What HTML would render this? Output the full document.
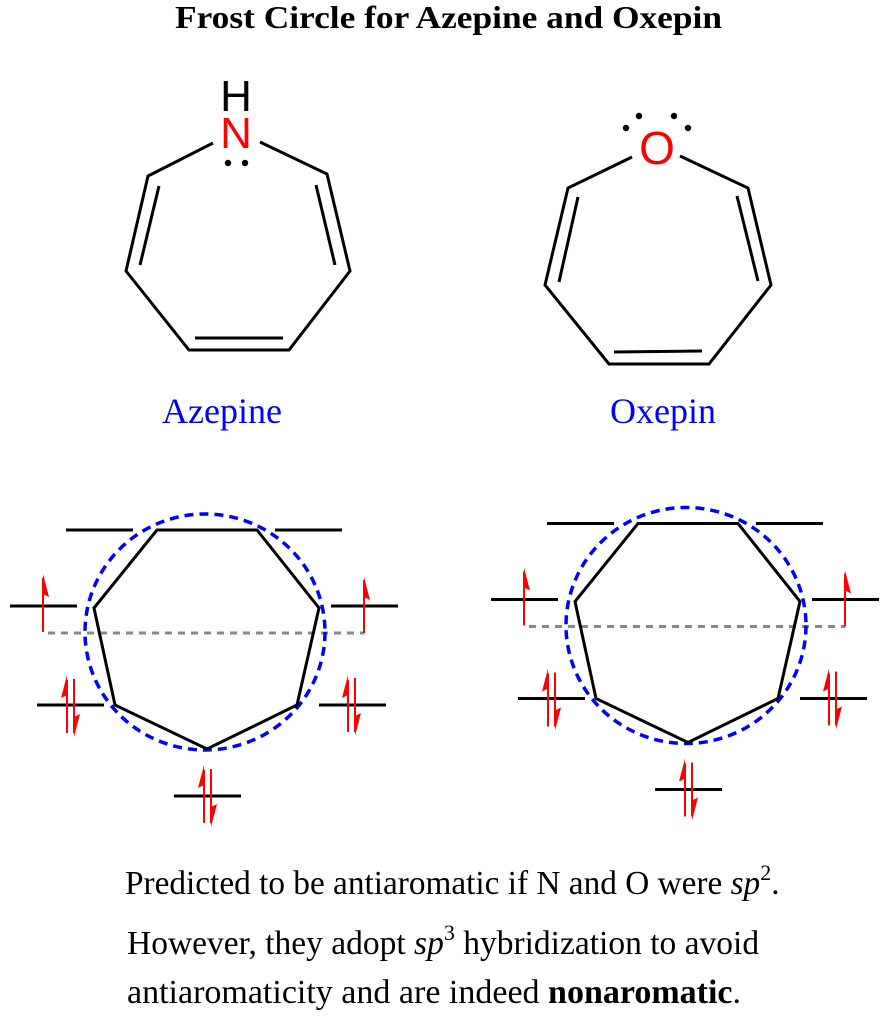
<!DOCTYPE html>
<html><head><style>
body{margin:0;background:#fff;width:893px;height:1027px;overflow:hidden}
svg{display:block}
</style></head><body>
<svg width="893" height="1027" xmlns="http://www.w3.org/2000/svg" font-family="Liberation Serif, serif">
<text x="175" y="28" textLength="547" lengthAdjust="spacingAndGlyphs" font-weight="bold" font-size="32">Frost Circle for Azepine and Oxepin</text>
<!-- Azepine -->
<g stroke="#000" stroke-width="3" fill="none">
<polyline points="213,143 148,176 126,271 189,350 289,350 350,271 327,174 260,142"/>
<line x1="159" y1="186" x2="140" y2="265"/>
<line x1="316" y1="185" x2="335" y2="265"/>
<line x1="195" y1="338" x2="283" y2="338"/>
</g>
<text x="236" y="111" text-anchor="middle" font-family="Liberation Sans, sans-serif" font-size="44">H</text>
<text x="236" y="148" text-anchor="middle" font-family="Liberation Sans, sans-serif" font-size="44" fill="#f00">N</text>
<circle cx="228" cy="163" r="3.2"/><circle cx="245" cy="163" r="3.2"/>
<text x="222" y="423" text-anchor="middle" font-size="36" fill="#00f">Azepine</text>
<!-- Oxepin -->
<g stroke="#000" stroke-width="3" fill="none">
<polyline points="632,157 568,188 545,285 609,364 709,364 771,285 748,188 680,156"/>
<line x1="578" y1="197" x2="559" y2="282"/>
<line x1="737" y1="196" x2="758" y2="281"/>
<line x1="614" y1="352" x2="702" y2="351"/>
</g>
<text x="657" y="164" text-anchor="middle" font-family="Liberation Sans, sans-serif" font-size="46" fill="#f00">O</text>
<circle cx="626" cy="128" r="3.2"/><circle cx="639" cy="116" r="3.2"/><circle cx="674" cy="116" r="3.2"/><circle cx="688" cy="128" r="3.2"/>
<text x="663" y="423" text-anchor="middle" font-size="36" fill="#00f">Oxepin</text>

<defs>
<g id="frost">
<g stroke="#000" stroke-width="3">
<line x1="66" y1="530" x2="133" y2="530"/><line x1="275" y1="530" x2="342" y2="530"/>
<line x1="10" y1="606" x2="77" y2="606"/><line x1="331" y1="606" x2="398" y2="606"/>
<line x1="37" y1="705" x2="104" y2="705"/><line x1="319" y1="705" x2="386" y2="705"/>
<line x1="174" y1="796" x2="241" y2="796"/>
</g>
<line x1="48" y1="633" x2="364" y2="633" stroke="#888" stroke-width="3" stroke-dasharray="7,6"/>
<ellipse cx="205" cy="632" rx="120" ry="118" fill="none" stroke="#00f" stroke-width="3.5" stroke-dasharray="9,6"/>
<polygon points="157,530 257,530 319,608 297,705 207,749 115,705 94,608" fill="none" stroke="#000" stroke-width="3"/>
<g stroke="#f00" stroke-width="2" fill="#f00">
<line x1="43" y1="632" x2="43" y2="578"/><polygon points="43,574 49,597 43,594" stroke="none"/>
<line x1="364" y1="633" x2="364" y2="580"/><polygon points="364,577 370,600 364,597" stroke="none"/>
<line x1="67" y1="733" x2="67" y2="680"/><polygon points="67,675 61,698 67,695" stroke="none"/>
<line x1="74" y1="679" x2="74" y2="733"/><polygon points="74,737 80,714 74,717" stroke="none"/>
<line x1="348" y1="732" x2="348" y2="680"/><polygon points="348,675 342,698 348,695" stroke="none"/>
<line x1="355" y1="678" x2="355" y2="732"/><polygon points="355,736 361,713 355,716" stroke="none"/>
<line x1="204" y1="823" x2="204" y2="770"/><polygon points="204,765 198,788 204,785" stroke="none"/>
<line x1="211" y1="769" x2="211" y2="823"/><polygon points="211,827 217,804 211,807" stroke="none"/>
</g>
</g>
</defs>
<use href="#frost"/>
<use href="#frost" transform="translate(481,-6.5)"/>

<text x="125" y="894" font-size="33.3">Predicted to be antiaromatic if N and O were <tspan font-style="italic">sp</tspan><tspan font-size="22" dy="-14">2</tspan><tspan dy="14">.</tspan></text>
<text x="127" y="954" font-size="33.5">However, they adopt <tspan font-style="italic">sp</tspan><tspan font-size="22" dy="-14">3</tspan><tspan dy="14"> hybridization to avoid</tspan></text>
<text x="127" y="1003" font-size="34">antiaromaticity and are indeed <tspan font-weight="bold">nonaromatic</tspan>.</text>
</svg>
</body></html>
